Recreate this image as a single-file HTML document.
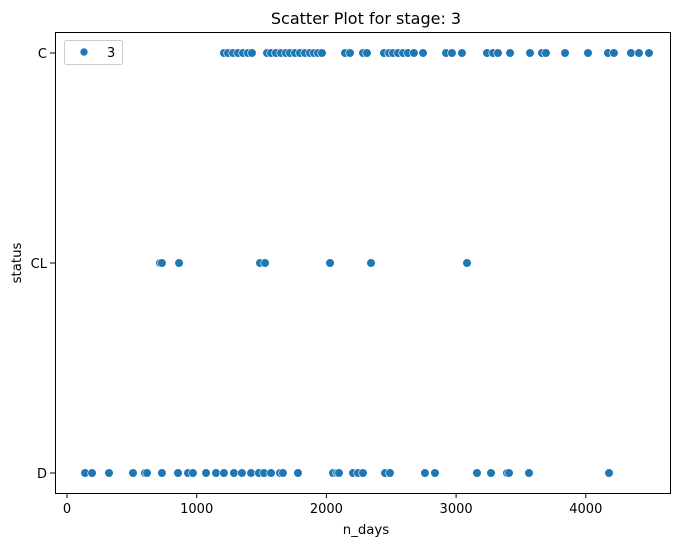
<!DOCTYPE html>
<html><head><meta charset="utf-8"><style>
body{margin:0;background:#fff;font-family:"Liberation Sans","DejaVu Sans",sans-serif;}
svg text{font-family:"DejaVu Sans","Liberation Sans",sans-serif;}
</style></head><body>
<svg width="686" height="547" xmlns="http://www.w3.org/2000/svg">
<rect width="686" height="547" fill="#fff"/>
<text x="366" y="24" text-anchor="middle" font-size="16">Scatter Plot for stage: 3</text>
<g id="ticks"></g>
<g id="points"></g>
<rect x="55.5" y="32.5" width="615" height="461" fill="none" stroke="#000" stroke-width="1"/>
<text x="366" y="534" text-anchor="middle" font-size="13.3">n_days</text>
<text transform="translate(21,263) rotate(-90)" text-anchor="middle" font-size="13.3">status</text>
<g>
<rect x="64.5" y="40.5" width="58" height="24" rx="2" fill="#fff" stroke="#ccc"/>
<circle cx="84" cy="52" r="4" fill="#1f77b4" stroke="#fff" stroke-width="0.6"/>
<text x="107" y="57" font-size="13">3</text>
</g>
</svg>
<script>
const categories = ["C","CL","D"];
const xTicks = [0,1000,2000,3000,4000];
const cDays = [1210,1241,1280,1318,1357,1395,1426,1542,1573,1611,1650,1688,1719,1758,1796,1835,1873,1904,1935,1966,2143,2182,2282,2313,2444,2483,2513,2552,2591,2629,2675,2745,2922,2968,3045,3238,3285,3323,3416,3570,3662,3693,3840,4017,4171,4217,4348,4410,4487];
const clDays = [717,732,864,1488,1527,2028,2344,3084];
const dDays = [139,193,324,509,601,617,732,856,933,971,1072,1149,1210,1287,1349,1419,1480,1519,1573,1642,1665,1781,2051,2082,2097,2205,2244,2282,2452,2490,2760,2837,3161,3269,3392,3408,3562,4179];
const NS="http://www.w3.org/2000/svg";
function xs(v){return 67+v*0.1297;}
function ys(c){const i=categories.indexOf(c);return 53+i*210;}
const tg=document.getElementById('ticks');
function mk(tag,attrs,parent){const e=document.createElementNS(NS,tag);for(const k in attrs)e.setAttribute(k,attrs[k]);parent.appendChild(e);return e;}
xTicks.forEach(t=>{
  const l=mk('line',{x1:xs(t),x2:xs(t),y1:493,y2:498,stroke:'#000'},tg);
  
  
  const tx=mk('text',{x:xs(t),y:513,'text-anchor':'middle','font-size':'13'},tg);
  tx.textContent=t;
  
  
});
categories.forEach(c=>{
  const l=mk('line',{x1:50,x2:55,y1:ys(c),y2:ys(c),stroke:'#000'},tg);
  
  
  const tx=mk('text',{x:47,y:ys(c)+5,'text-anchor':'end','font-size':'13'},tg);
  tx.textContent=c;
  
  
});
const pg=document.getElementById('points');
[["C",cDays],["CL",clDays],["D",dDays]].forEach(([c,arr])=>{
  arr.forEach(d=>{
    const p=mk('circle',{cx:xs(d),cy:ys(c),r:4.3,fill:'#1f77b4',stroke:'#fff','stroke-width':0.6},pg);
    
    
  });
});
</script>
</body></html>
